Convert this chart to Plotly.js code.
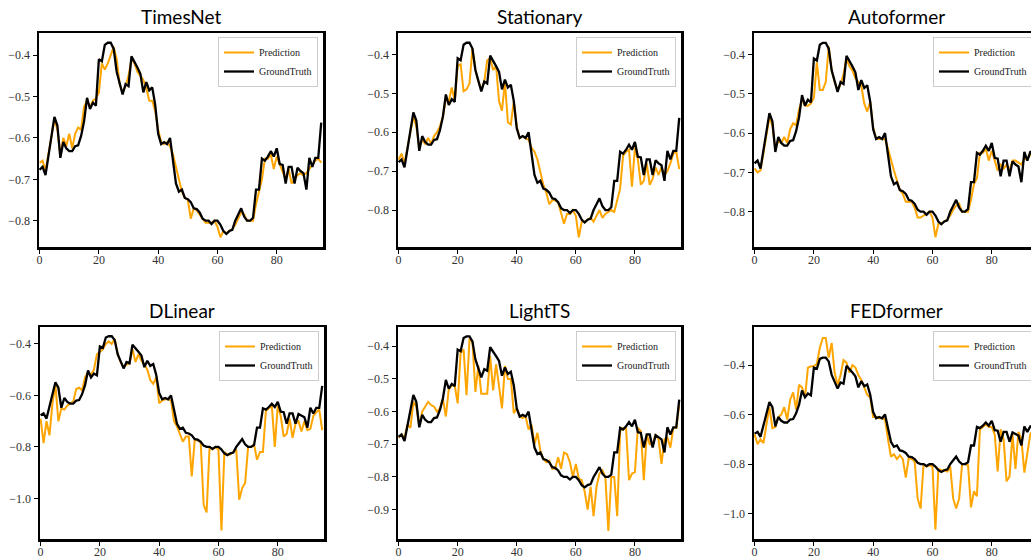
<!DOCTYPE html>
<html><head><meta charset="utf-8">
<script src="https://cdn.plot.ly/plotly-3.0.1.min.js"></script>
<style>html,body{margin:0;padding:0;overflow:hidden;background:#fff}#chart{width:1060px;height:560px}</style>
</head><body><div id="chart"></div><script>
const steps = [0,1,2,3,4,5,6,7,8,9,10,11,12,13,14,15,16,17,18,19,20,21,22,23,24,25,26,27,28,29,30,31,32,33,34,35,36,37,38,39,40,41,42,43,44,45,46,47,48,49,50,51,52,53,54,55,56,57,58,59,60,61,62,63,64,65,66,67,68,69,70,71,72,73,74,75,76,77,78,79,80,81,82,83,84,85,86,87,88,89,90,91,92,93,94,95];
const groundTruth = [-0.677,-0.67,-0.69,-0.64,-0.60,-0.549,-0.57,-0.648,-0.61,-0.625,
-0.632,-0.632,-0.62,-0.618,-0.595,-0.56,-0.503,-0.53,-0.515,-0.522,
-0.41,-0.415,-0.375,-0.37,-0.37,-0.385,-0.44,-0.47,-0.495,-0.47,
-0.475,-0.403,-0.415,-0.43,-0.445,-0.49,-0.465,-0.485,-0.478,-0.52,
-0.59,-0.615,-0.61,-0.615,-0.60,-0.65,-0.71,-0.73,-0.725,-0.745,
-0.748,-0.755,-0.77,-0.772,-0.78,-0.795,-0.80,-0.80,-0.808,-0.80,
-0.80,-0.81,-0.825,-0.832,-0.825,-0.822,-0.80,-0.785,-0.77,-0.79,
-0.80,-0.80,-0.793,-0.725,-0.725,-0.65,-0.655,-0.645,-0.632,-0.645,
-0.625,-0.663,-0.665,-0.71,-0.67,-0.67,-0.71,-0.672,-0.68,-0.685,
-0.725,-0.648,-0.67,-0.648,-0.648,-0.563];
const predTimesNet = [-0.66,-0.655,-0.68,-0.64,-0.60,-0.555,-0.58,-0.64,-0.60,-0.62,
-0.59,-0.625,-0.59,-0.575,-0.58,-0.525,-0.51,-0.525,-0.51,-0.505,
-0.49,-0.42,-0.435,-0.42,-0.40,-0.38,-0.41,-0.47,-0.49,-0.475,
-0.45,-0.41,-0.42,-0.44,-0.45,-0.46,-0.48,-0.51,-0.51,-0.535,
-0.58,-0.61,-0.615,-0.61,-0.62,-0.64,-0.67,-0.70,-0.73,-0.745,
-0.75,-0.795,-0.77,-0.775,-0.785,-0.795,-0.805,-0.805,-0.805,-0.80,
-0.815,-0.84,-0.825,-0.83,-0.825,-0.82,-0.81,-0.795,-0.78,-0.785,
-0.80,-0.80,-0.80,-0.76,-0.73,-0.70,-0.65,-0.65,-0.64,-0.675,
-0.645,-0.665,-0.68,-0.70,-0.675,-0.71,-0.70,-0.69,-0.685,-0.69,
-0.685,-0.675,-0.665,-0.655,-0.65,-0.66];
const predStationary = [-0.67,-0.655,-0.68,-0.64,-0.60,-0.56,-0.585,-0.64,-0.62,-0.63,
-0.615,-0.63,-0.61,-0.60,-0.585,-0.56,-0.515,-0.52,-0.485,-0.52,
-0.43,-0.425,-0.495,-0.49,-0.475,-0.385,-0.44,-0.47,-0.49,-0.47,
-0.415,-0.41,-0.44,-0.43,-0.52,-0.545,-0.47,-0.575,-0.58,-0.52,
-0.585,-0.615,-0.61,-0.615,-0.62,-0.64,-0.65,-0.67,-0.70,-0.735,
-0.755,-0.785,-0.775,-0.775,-0.78,-0.805,-0.835,-0.81,-0.81,-0.80,
-0.815,-0.87,-0.83,-0.83,-0.825,-0.82,-0.83,-0.815,-0.80,-0.82,
-0.81,-0.805,-0.80,-0.805,-0.775,-0.745,-0.66,-0.65,-0.645,-0.74,
-0.64,-0.67,-0.735,-0.725,-0.68,-0.735,-0.72,-0.69,-0.71,-0.69,
-0.71,-0.70,-0.68,-0.655,-0.65,-0.695];
const predAutoformer = [-0.69,-0.70,-0.695,-0.65,-0.61,-0.56,-0.58,-0.64,-0.62,-0.625,
-0.61,-0.625,-0.59,-0.575,-0.58,-0.54,-0.515,-0.53,-0.53,-0.525,
-0.51,-0.42,-0.49,-0.49,-0.47,-0.38,-0.44,-0.47,-0.49,-0.475,
-0.45,-0.41,-0.43,-0.44,-0.46,-0.47,-0.48,-0.525,-0.545,-0.52,
-0.585,-0.615,-0.615,-0.615,-0.615,-0.64,-0.67,-0.695,-0.72,-0.745,
-0.755,-0.775,-0.775,-0.775,-0.79,-0.815,-0.815,-0.81,-0.805,-0.80,
-0.815,-0.865,-0.83,-0.83,-0.825,-0.82,-0.81,-0.795,-0.785,-0.78,
-0.80,-0.80,-0.80,-0.77,-0.73,-0.715,-0.65,-0.65,-0.64,-0.67,
-0.645,-0.67,-0.695,-0.68,-0.69,-0.68,-0.695,-0.67,-0.67,-0.675,
-0.68,-0.665,-0.665,-0.655,-0.65,-0.66];
const predDLinear = [-0.69,-0.785,-0.70,-0.755,-0.63,-0.56,-0.70,-0.65,-0.655,-0.64,
-0.63,-0.625,-0.575,-0.57,-0.58,-0.53,-0.51,-0.52,-0.50,-0.44,
-0.43,-0.42,-0.40,-0.39,-0.40,-0.38,-0.44,-0.47,-0.49,-0.48,
-0.475,-0.42,-0.47,-0.44,-0.465,-0.48,-0.50,-0.54,-0.555,-0.53,
-0.63,-0.62,-0.615,-0.615,-0.62,-0.70,-0.72,-0.75,-0.78,-0.76,
-0.76,-0.915,-0.77,-0.775,-0.78,-1.025,-1.055,-0.80,-0.81,-0.80,
-0.81,-1.125,-0.82,-0.83,-0.83,-0.82,-0.81,-1.005,-0.96,-0.94,
-0.80,-0.80,-0.79,-0.85,-0.82,-0.82,-0.66,-0.65,-0.64,-0.80,
-0.64,-0.68,-0.76,-0.75,-0.69,-0.765,-0.71,-0.70,-0.74,-0.70,
-0.735,-0.73,-0.68,-0.665,-0.655,-0.735];
const predLightTS = [-0.68,-0.67,-0.68,-0.64,-0.65,-0.57,-0.585,-0.645,-0.60,-0.585,
-0.57,-0.58,-0.585,-0.60,-0.59,-0.56,-0.615,-0.53,-0.52,-0.52,
-0.575,-0.42,-0.41,-0.55,-0.38,-0.385,-0.54,-0.46,-0.545,-0.545,
-0.545,-0.43,-0.535,-0.455,-0.53,-0.59,-0.46,-0.50,-0.50,-0.605,
-0.59,-0.615,-0.62,-0.615,-0.655,-0.64,-0.70,-0.665,-0.72,-0.745,
-0.755,-0.75,-0.775,-0.775,-0.74,-0.775,-0.725,-0.73,-0.755,-0.80,
-0.76,-0.805,-0.81,-0.845,-0.90,-0.83,-0.92,-0.83,-0.79,-0.78,
-0.80,-0.965,-0.80,-0.80,-0.92,-0.66,-0.65,-0.65,-0.81,-0.79,
-0.785,-0.65,-0.66,-0.81,-0.67,-0.70,-0.70,-0.67,-0.685,-0.76,
-0.685,-0.68,-0.71,-0.65,-0.65,-0.58];
const predFEDformer = [-0.68,-0.72,-0.70,-0.715,-0.64,-0.57,-0.655,-0.65,-0.61,-0.60,
-0.57,-0.62,-0.54,-0.51,-0.58,-0.48,-0.49,-0.53,-0.41,-0.405,
-0.405,-0.395,-0.33,-0.29,-0.29,-0.37,-0.31,-0.43,-0.48,-0.44,
-0.38,-0.39,-0.43,-0.40,-0.41,-0.44,-0.46,-0.49,-0.52,-0.53,
-0.61,-0.61,-0.615,-0.615,-0.62,-0.70,-0.77,-0.76,-0.78,-0.765,
-0.78,-0.855,-0.775,-0.78,-0.79,-0.94,-0.98,-0.80,-0.81,-0.805,
-0.81,-1.065,-0.82,-0.825,-0.825,-0.83,-0.81,-0.94,-0.98,-0.94,
-0.80,-0.80,-0.805,-0.975,-0.91,-0.93,-0.66,-0.65,-0.64,-0.65,
-0.65,-0.68,-0.83,-0.66,-0.70,-0.87,-0.85,-0.68,-0.82,-0.67,
-0.70,-0.835,-0.75,-0.68,-0.66,-0.65];
const models = ['TimesNet','Stationary','Autoformer','DLinear','LightTS','FEDformer'];
const predictions = [predTimesNet, predStationary, predAutoformer, predDLinear, predLightTS, predFEDformer];
const xTicks = [0,20,40,60,80];

// layout helpers (pixel boxes of each axes: left, right, top, bottom)
const W = 1060, H = 560;
const boxes = [[39,323,33,247],[398,681,33,247],[754,1038,33,247],
               [40,324,327,539],[398,681,327,539],[754,1038,327,539]];
const yRanges = [[-0.8635,-0.3465],[-0.895,-0.345],[-0.89,-0.345],
                 [-1.158,-0.334],[-0.99,-0.341],[-1.103,-0.246]];
const yDticks = [0.1,0.1,0.1,0.2,0.1,0.2];

const tickFont = {family:'"Liberation Serif", "DejaVu Serif", serif', size:12, color:'#333'};
const traces = [];
const layout = {
  width: W, height: H, margin:{l:0,r:0,t:0,b:0},
  paper_bgcolor:'#fff', plot_bgcolor:'#fff',
  annotations: [], showlegend: true
};
models.forEach((m, k) => {
  const sfx = k === 0 ? '' : String(k+1);
  const lg = 'legend' + sfx;
  traces.push({x: steps, y: predictions[k], type:'scatter', mode:'lines', name:'Prediction',
    line:{color:'#FFA500', width:2}, xaxis:'x'+sfx, yaxis:'y'+sfx, legend: lg});
  traces.push({x: steps, y: groundTruth, type:'scatter', mode:'lines', name:'GroundTruth',
    line:{color:'#000', width:2.3}, xaxis:'x'+sfx, yaxis:'y'+sfx, legend: lg});
  const [l, r, t, b] = boxes[k];
  const common = {showline:true, mirror:true, linecolor:'#000', linewidth:2.5,
    ticks:'outside', ticklen:4, tickwidth:1, tickcolor:'#000', showgrid:false, zeroline:false,
    tickfont: tickFont};
  layout['xaxis'+sfx] = Object.assign({}, common, {domain:[l/W, r/W], range:[-0.2, 95.6],
    tickvals: xTicks, anchor:'y'+sfx, ticklabelstandoff:-4});
  layout['yaxis'+sfx] = Object.assign({}, common, {domain:[1-b/H, 1-t/H], range: yRanges[k],
    dtick: yDticks[k], tick0: 0, tickformat:'.1f', anchor:'x'+sfx});
  layout[lg] = {x:(r-5)/W, y:1-(t+4)/H, xanchor:'right', yanchor:'top', xref:'paper', yref:'paper',
    bgcolor:'rgba(255,255,255,0.85)', bordercolor:'#ccc', borderwidth:1,
    font:{family:'"Liberation Serif", "DejaVu Serif", serif', size:10, color:'#222'},
    itemwidth:30, tracegroupgap:0};
  layout.annotations.push({text: m, xref:'paper', yref:'paper', x:((l+r)/2)/W, y:1-(t-17)/H,
    xanchor:'center', yanchor:'middle', showarrow:false,
    font:{family:'Lato, "Noto Sans", sans-serif', size:19, color:'#000'}});
});
Plotly.newPlot('chart', traces, layout, {displayModeBar:false, staticPlot:true});
</script></body></html>
